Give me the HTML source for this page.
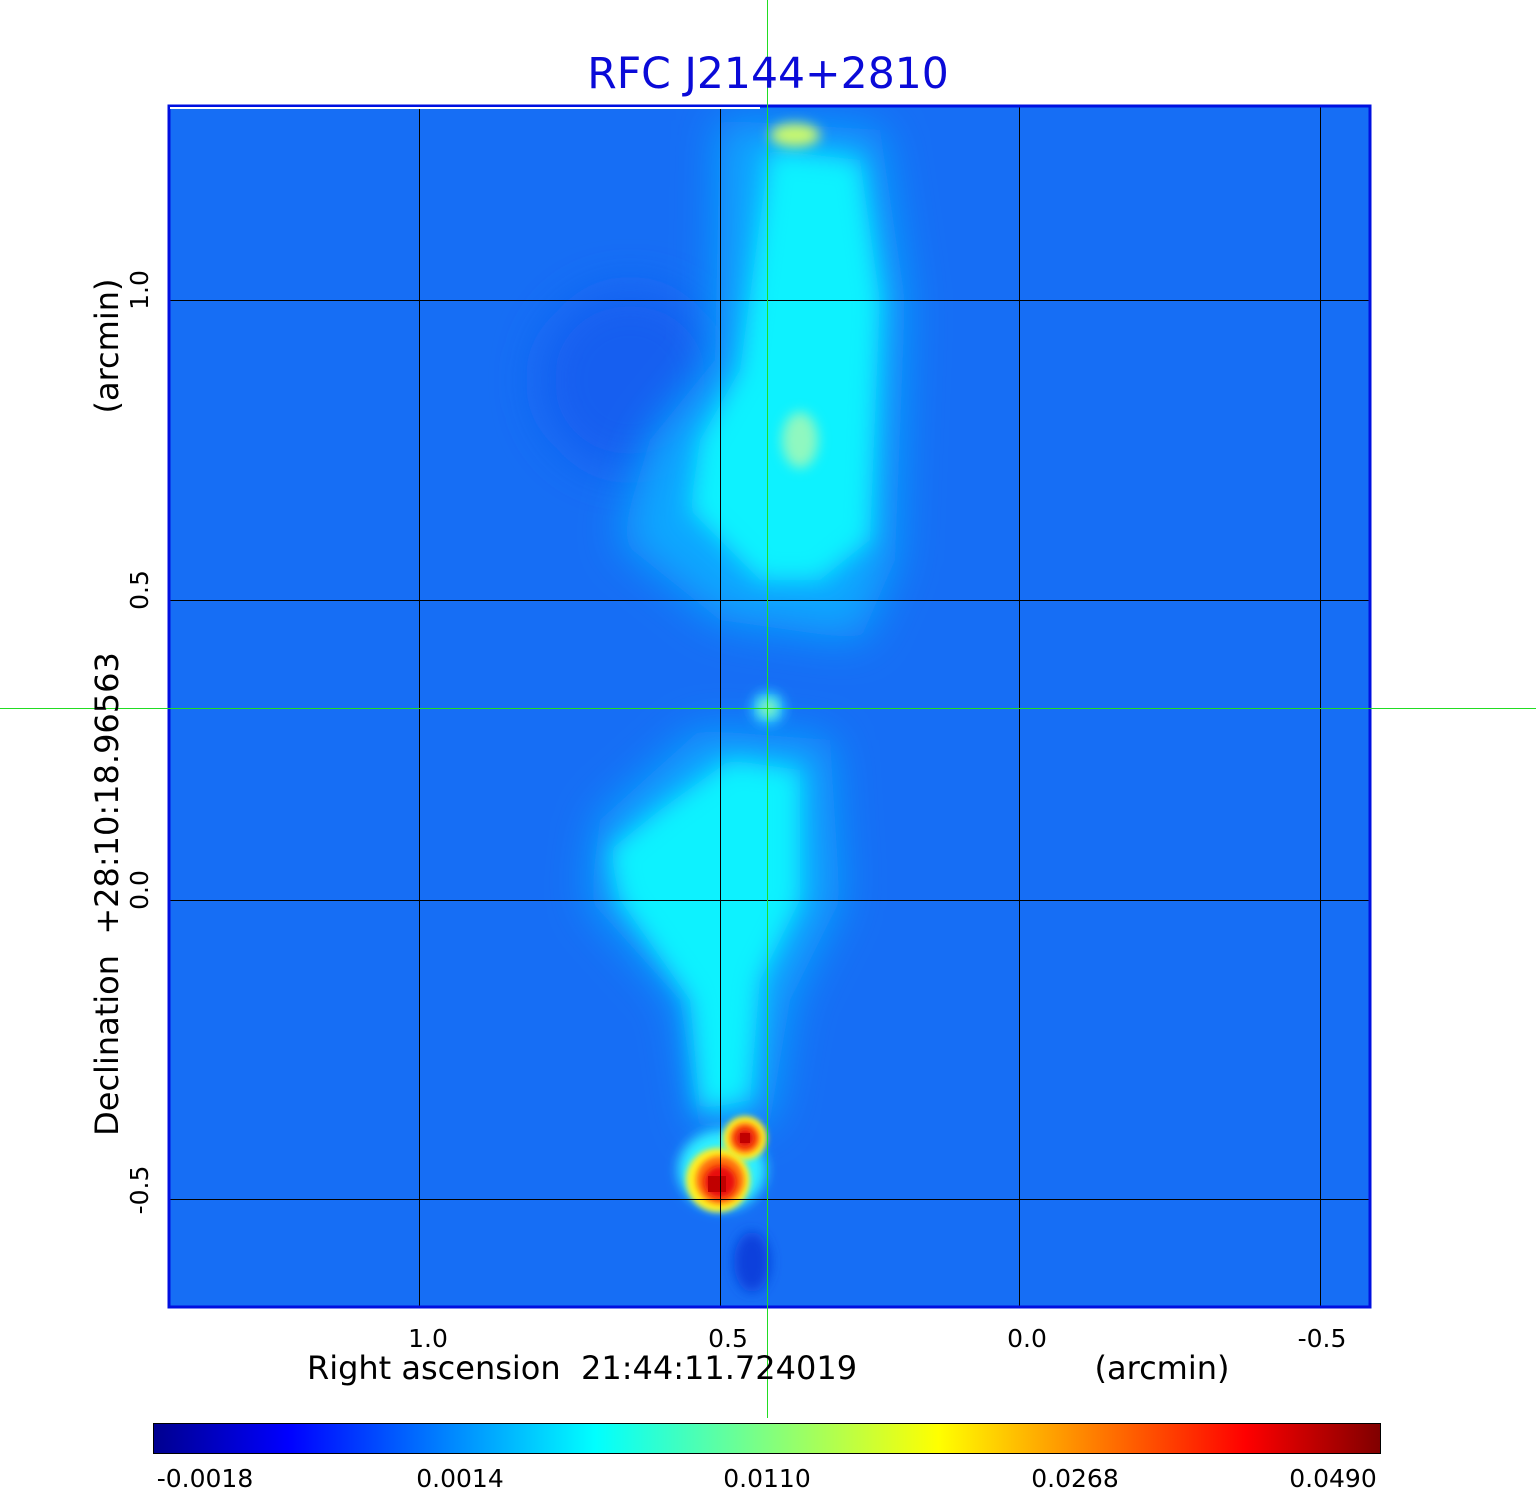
<!DOCTYPE html>
<html><head><meta charset="utf-8"><style>
html,body{margin:0;padding:0;background:#fff;}
svg{display:block;font-family:"DejaVu Sans","Liberation Sans",sans-serif;}
</style></head><body>
<svg width="1536" height="1511" viewBox="0 0 1536 1511" xmlns="http://www.w3.org/2000/svg">
<defs>
<filter id="b1" x="-50%" y="-50%" width="200%" height="200%"><feGaussianBlur stdDeviation="22"/></filter>
<filter id="b2" x="-50%" y="-50%" width="200%" height="200%"><feGaussianBlur stdDeviation="12"/></filter>
<filter id="b3" x="-50%" y="-50%" width="200%" height="200%"><feGaussianBlur stdDeviation="6"/></filter>
<filter id="b4" x="-50%" y="-50%" width="200%" height="200%"><feGaussianBlur stdDeviation="3"/></filter>
<clipPath id="pc"><rect x="168" y="105" width="1203" height="1203"/></clipPath>
<linearGradient id="jet" x1="0" x2="1" y1="0" y2="0">
<stop offset="0" stop-color="#00008f"/>
<stop offset="0.11" stop-color="#0000ff"/>
<stop offset="0.36" stop-color="#00ffff"/>
<stop offset="0.5" stop-color="#80ff80"/>
<stop offset="0.64" stop-color="#ffff00"/>
<stop offset="0.89" stop-color="#ff0000"/>
<stop offset="1" stop-color="#800000"/>
</linearGradient>
</defs>
<rect x="168" y="105" width="1203" height="1203" fill="#166ef5"/>
<g clip-path="url(#pc)">
<ellipse cx="630" cy="380" rx="90" ry="90" fill="#125ff0" filter="url(#b1)"/>
<ellipse cx="752" cy="1262" rx="18" ry="30" fill="#0a40dc" filter="url(#b3)"/>
<path d="M720 120 L880 130 L905 300 L895 560 L860 640 L720 620 L620 540 L650 440 L715 360 Z" fill="#0ca8ff" filter="url(#b1)"/>
<path d="M700 730 L830 740 L840 900 L790 1000 L770 1120 L700 1130 L680 1000 L590 900 L600 820 Z" fill="#0ca8ff" filter="url(#b1)"/>
<path d="M770 150 L860 160 L880 300 L870 540 L820 580 L760 580 L690 510 L700 440 L740 370 L760 220 Z" fill="#0af2ff" filter="url(#b2)"/>
<path d="M730 760 L800 770 L800 900 L760 980 L750 1100 L700 1110 L690 1000 L620 900 L610 850 L660 810 Z" fill="#0af2ff" filter="url(#b2)"/>
<ellipse cx="795" cy="135" rx="25" ry="12" fill="#c8f870" filter="url(#b3)"/>
<ellipse cx="800" cy="440" rx="18" ry="28" fill="#8ff8c0" filter="url(#b3)"/>
<circle cx="768" cy="708" r="16" fill="#30d8ff" filter="url(#b3)"/>
<circle cx="768" cy="708" r="7" fill="#b0ff90" filter="url(#b3)"/>
<ellipse cx="722" cy="1170" rx="44" ry="40" fill="#2ff0ff" filter="url(#b3)"/>
<circle cx="718" cy="1180" r="32" fill="#ffee20" filter="url(#b4)"/>
<circle cx="745" cy="1138" r="22" fill="#ffee20" filter="url(#b4)"/>
<circle cx="720" cy="1180" r="24" fill="#ff7010" filter="url(#b4)"/>
<circle cx="745" cy="1138" r="15" fill="#ff6010" filter="url(#b4)"/>
<circle cx="720" cy="1182" r="16" fill="#e81008" filter="url(#b4)"/>
<circle cx="745" cy="1138" r="9" fill="#e01008" filter="url(#b4)"/>
<rect x="708" y="1176" width="18" height="16" fill="#c00000"/>
<rect x="740" y="1133" width="10" height="10" fill="#c00000"/>
<g stroke="#000" stroke-width="1">
<line x1="419.5" y1="105" x2="419.5" y2="1308"/>
<line x1="720.5" y1="105" x2="720.5" y2="1308"/>
<line x1="1019.5" y1="105" x2="1019.5" y2="1308"/>
<line x1="1320.5" y1="105" x2="1320.5" y2="1308"/>
<line x1="168" y1="300.5" x2="1371" y2="300.5"/>
<line x1="168" y1="600.5" x2="1371" y2="600.5"/>
<line x1="168" y1="900.5" x2="1371" y2="900.5"/>
<line x1="168" y1="1199.5" x2="1371" y2="1199.5"/>
</g>
</g>
<rect x="169" y="106" width="1201" height="1201" fill="none" stroke="#0010e0" stroke-width="3"/>
<line x1="170" y1="108" x2="760" y2="108" stroke="#fff" stroke-width="2"/>
<rect x="767" y="0" width="1" height="1418" fill="#22dd22"/>
<rect x="0" y="708" width="1536" height="1" fill="#22dd22"/>
<text x="768" y="88" text-anchor="middle" font-size="42.5" fill="#0a0ad8">RFC J2144+2810</text>
<g font-size="25" fill="#000" text-anchor="middle">
<text x="428" y="1347">1.0</text>
<text x="728" y="1347">0.5</text>
<text x="1027" y="1347">0.0</text>
<text x="1322" y="1347">-0.5</text>
</g>
<text x="582" y="1379" text-anchor="middle" font-size="32">Right ascension&#160;&#160;21:44:11.724019</text>
<text x="1162" y="1379" text-anchor="middle" font-size="32">(arcmin)</text>
<g font-size="25" fill="#000" text-anchor="middle">
<text transform="translate(148,290) rotate(-90)">1.0</text>
<text transform="translate(148,590) rotate(-90)">0.5</text>
<text transform="translate(148,890) rotate(-90)">0.0</text>
<text transform="translate(148,1190) rotate(-90)">-0.5</text>
</g>
<text transform="translate(118,894) rotate(-90)" text-anchor="middle" font-size="32">Declination&#160;&#160;+28:10:18.96563</text>
<text transform="translate(118,346) rotate(-90)" text-anchor="middle" font-size="32">(arcmin)</text>
<rect x="153.5" y="1423.5" width="1227" height="30" fill="url(#jet)" stroke="#000" stroke-width="1"/>
<g font-size="25" text-anchor="middle">
<text x="205" y="1487">-0.0018</text>
<text x="460" y="1487">0.0014</text>
<text x="767" y="1487">0.0110</text>
<text x="1075" y="1487">0.0268</text>
<text x="1333" y="1487">0.0490</text>
</g>
</svg>
</body></html>
